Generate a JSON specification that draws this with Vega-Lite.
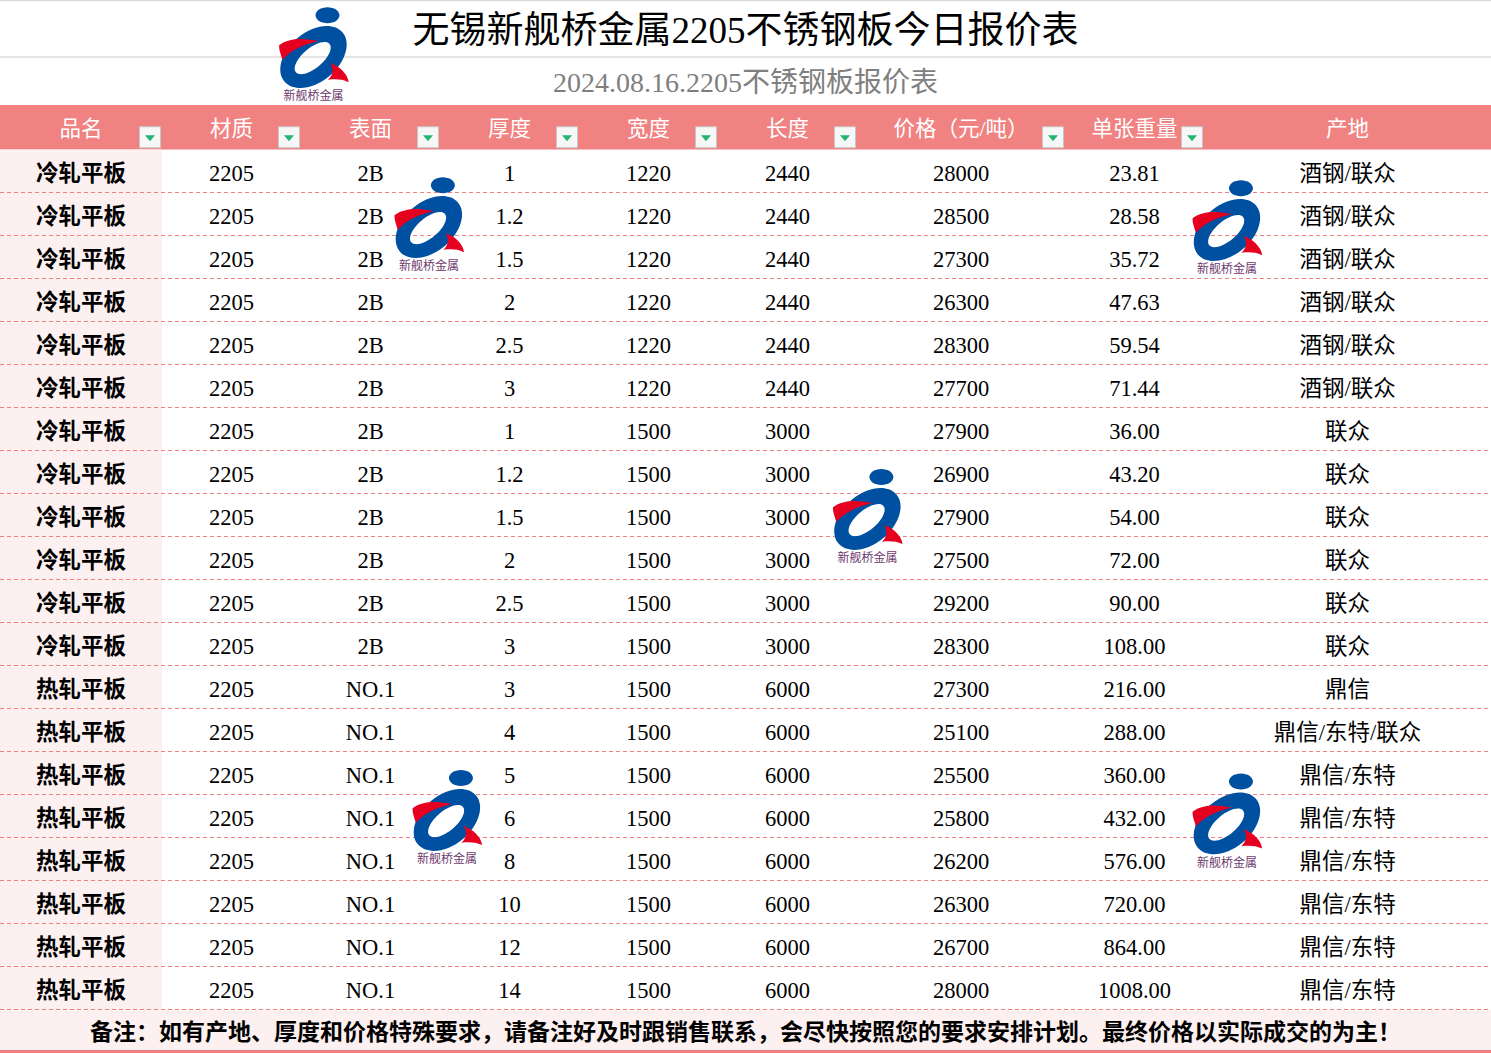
{
"$schema":"https://vega.github.io/schema/vega-lite/v6.json",
"width":1491,"height":1053,"padding":0,"autosize":{"type":"none"},
"background":"#FFFFFF",
"config":{"view":{"stroke":null},"text":{"font":"Liberation Serif, Noto Sans CJK SC"}},
"datasets":{
"table":[
{"r":1,"品名":"冷轧平板","材质":2205,"表面":"2B","厚度":1,"宽度":1220,"长度":2440,"价格（元/吨）":28000,"单张重量":"23.81","产地":"酒钢/联众"},
{"r":2,"品名":"冷轧平板","材质":2205,"表面":"2B","厚度":1.2,"宽度":1220,"长度":2440,"价格（元/吨）":28500,"单张重量":"28.58","产地":"酒钢/联众"},
{"r":3,"品名":"冷轧平板","材质":2205,"表面":"2B","厚度":1.5,"宽度":1220,"长度":2440,"价格（元/吨）":27300,"单张重量":"35.72","产地":"酒钢/联众"},
{"r":4,"品名":"冷轧平板","材质":2205,"表面":"2B","厚度":2,"宽度":1220,"长度":2440,"价格（元/吨）":26300,"单张重量":"47.63","产地":"酒钢/联众"},
{"r":5,"品名":"冷轧平板","材质":2205,"表面":"2B","厚度":2.5,"宽度":1220,"长度":2440,"价格（元/吨）":28300,"单张重量":"59.54","产地":"酒钢/联众"},
{"r":6,"品名":"冷轧平板","材质":2205,"表面":"2B","厚度":3,"宽度":1220,"长度":2440,"价格（元/吨）":27700,"单张重量":"71.44","产地":"酒钢/联众"},
{"r":7,"品名":"冷轧平板","材质":2205,"表面":"2B","厚度":1,"宽度":1500,"长度":3000,"价格（元/吨）":27900,"单张重量":"36.00","产地":"联众"},
{"r":8,"品名":"冷轧平板","材质":2205,"表面":"2B","厚度":1.2,"宽度":1500,"长度":3000,"价格（元/吨）":26900,"单张重量":"43.20","产地":"联众"},
{"r":9,"品名":"冷轧平板","材质":2205,"表面":"2B","厚度":1.5,"宽度":1500,"长度":3000,"价格（元/吨）":27900,"单张重量":"54.00","产地":"联众"},
{"r":10,"品名":"冷轧平板","材质":2205,"表面":"2B","厚度":2,"宽度":1500,"长度":3000,"价格（元/吨）":27500,"单张重量":"72.00","产地":"联众"},
{"r":11,"品名":"冷轧平板","材质":2205,"表面":"2B","厚度":2.5,"宽度":1500,"长度":3000,"价格（元/吨）":29200,"单张重量":"90.00","产地":"联众"},
{"r":12,"品名":"冷轧平板","材质":2205,"表面":"2B","厚度":3,"宽度":1500,"长度":3000,"价格（元/吨）":28300,"单张重量":"108.00","产地":"联众"},
{"r":13,"品名":"热轧平板","材质":2205,"表面":"NO.1","厚度":3,"宽度":1500,"长度":6000,"价格（元/吨）":27300,"单张重量":"216.00","产地":"鼎信"},
{"r":14,"品名":"热轧平板","材质":2205,"表面":"NO.1","厚度":4,"宽度":1500,"长度":6000,"价格（元/吨）":25100,"单张重量":"288.00","产地":"鼎信/东特/联众"},
{"r":15,"品名":"热轧平板","材质":2205,"表面":"NO.1","厚度":5,"宽度":1500,"长度":6000,"价格（元/吨）":25500,"单张重量":"360.00","产地":"鼎信/东特"},
{"r":16,"品名":"热轧平板","材质":2205,"表面":"NO.1","厚度":6,"宽度":1500,"长度":6000,"价格（元/吨）":25800,"单张重量":"432.00","产地":"鼎信/东特"},
{"r":17,"品名":"热轧平板","材质":2205,"表面":"NO.1","厚度":8,"宽度":1500,"长度":6000,"价格（元/吨）":26200,"单张重量":"576.00","产地":"鼎信/东特"},
{"r":18,"品名":"热轧平板","材质":2205,"表面":"NO.1","厚度":10,"宽度":1500,"长度":6000,"价格（元/吨）":26300,"单张重量":"720.00","产地":"鼎信/东特"},
{"r":19,"品名":"热轧平板","材质":2205,"表面":"NO.1","厚度":12,"宽度":1500,"长度":6000,"价格（元/吨）":26700,"单张重量":"864.00","产地":"鼎信/东特"},
{"r":20,"品名":"热轧平板","材质":2205,"表面":"NO.1","厚度":14,"宽度":1500,"长度":6000,"价格（元/吨）":28000,"单张重量":"1008.00","产地":"鼎信/东特"}
],
"cols":[
{"name":"品名","c":0},{"name":"材质","c":1},{"name":"表面","c":2},{"name":"厚度","c":3},{"name":"宽度","c":4},{"name":"长度","c":5},{"name":"价格（元/吨）","c":6},{"name":"单张重量","c":7},{"name":"产地","c":8}
],
"logos":[
{"lx":1.59,"ly":-1.69},{"lx":2.42,"ly":2.05},{"lx":7.58,"ly":2.12},{"lx":5.55,"ly":8.84},{"lx":2.55,"ly":15.84},{"lx":7.58,"ly":15.92}
],
"notes":[
{"title":"无锡新舰桥金属2205不锈钢板今日报价表","subtitle":"2024.08.16.2205不锈钢板报价表","note":"备注：如有产地、厚度和价格特殊要求，请备注好及时跟销售联系，会尽快按照您的要求安排计划。最终价格以实际成交的为主！"}
]
},
"resolve":{"scale":{"x":"independent"}},
"layer":[
{"layer":[
{"data":{"values":[{}]},"mark":{"type":"rect","fill":"#FFFFFF"},
 "encoding":{"x":{"datum":-0.5,"type":"quantitative","scale":{"domain":[-0.5,0.5,1.5,2.5,3.5,4.5,5.5,6.5,7.5,8.5],"range":[0,162,301,440,579,718,857,1065,1204,1491],"nice":false,"zero":false},"axis":null},"x2":{"datum":8.5},
 "y":{"datum":-2.5,"type":"quantitative","scale":{"domain":[-2.5,-1.5,-0.5,0.5,20.5,21.5],"range":[0,57,105,149.5,1009.5,1053],"nice":false,"zero":false},"axis":null},"y2":{"datum":-0.5}}},
{"data":{"values":[{}]},"mark":{"type":"rect","fill":"#F08282"},
 "encoding":{"x":{"datum":-0.5,"type":"quantitative","scale":{"domain":[-0.5,0.5,1.5,2.5,3.5,4.5,5.5,6.5,7.5,8.5],"range":[0,162,301,440,579,718,857,1065,1204,1491],"nice":false,"zero":false},"axis":null},"x2":{"datum":8.5},
 "y":{"datum":-0.5,"type":"quantitative","scale":{"domain":[-2.5,-1.5,-0.5,0.5,20.5,21.5],"range":[0,57,105,149.5,1009.5,1053],"nice":false,"zero":false},"axis":null},"y2":{"datum":0.5}}},
{"data":{"values":[{}]},"mark":{"type":"rect","fill":"#FDF0F0"},
 "encoding":{"x":{"datum":-0.5,"type":"quantitative","scale":{"domain":[-0.5,0.5,1.5,2.5,3.5,4.5,5.5,6.5,7.5,8.5],"range":[0,162,301,440,579,718,857,1065,1204,1491],"nice":false,"zero":false},"axis":null},"x2":{"datum":0.5},
 "y":{"datum":0.5,"type":"quantitative","scale":{"domain":[-2.5,-1.5,-0.5,0.5,20.5,21.5],"range":[0,57,105,149.5,1009.5,1053],"nice":false,"zero":false},"axis":null},"y2":{"datum":20.5}}},
{"data":{"values":[{}]},"mark":{"type":"rect","fill":"#FDF0F0"},
 "encoding":{"x":{"datum":-0.5,"type":"quantitative","scale":{"domain":[-0.5,0.5,1.5,2.5,3.5,4.5,5.5,6.5,7.5,8.5],"range":[0,162,301,440,579,718,857,1065,1204,1491],"nice":false,"zero":false},"axis":null},"x2":{"datum":8.5},
 "y":{"datum":20.5,"type":"quantitative","scale":{"domain":[-2.5,-1.5,-0.5,0.5,20.5,21.5],"range":[0,57,105,149.5,1009.5,1053],"nice":false,"zero":false},"axis":null},"y2":{"datum":21.5}}},
{"data":{"values":[{}]},"mark":{"type":"rule","stroke":"#DCDCDC","strokeWidth":1.5},
 "encoding":{"x":{"datum":-0.5,"type":"quantitative","scale":{"domain":[-0.5,0.5,1.5,2.5,3.5,4.5,5.5,6.5,7.5,8.5],"range":[0,162,301,440,579,718,857,1065,1204,1491],"nice":false,"zero":false},"axis":null},"x2":{"datum":8.5},
 "y":{"datum":-1.5,"type":"quantitative","scale":{"domain":[-2.5,-1.5,-0.5,0.5,20.5,21.5],"range":[0,57,105,149.5,1009.5,1053],"nice":false,"zero":false},"axis":null}}},
{"data":{"values":[{}]},"mark":{"type":"rule","stroke":"#DCDCDC","strokeWidth":2.5},
 "encoding":{"x":{"datum":-0.5,"type":"quantitative","scale":{"domain":[-0.5,0.5,1.5,2.5,3.5,4.5,5.5,6.5,7.5,8.5],"range":[0,162,301,440,579,718,857,1065,1204,1491],"nice":false,"zero":false},"axis":null},"x2":{"datum":8.5},
 "y":{"datum":-2.5,"type":"quantitative","scale":{"domain":[-2.5,-1.5,-0.5,0.5,20.5,21.5],"range":[0,57,105,149.5,1009.5,1053],"nice":false,"zero":false},"axis":null}}},
{"data":{"name":"table"},"mark":{"type":"rule","stroke":"#F08080","strokeWidth":1,"strokeDash":[4,3],"yOffset":21.5},
 "encoding":{"x":{"datum":-0.5,"type":"quantitative","scale":{"domain":[-0.5,0.5,1.5,2.5,3.5,4.5,5.5,6.5,7.5,8.5],"range":[0,162,301,440,579,718,857,1065,1204,1491],"nice":false,"zero":false},"axis":null},"x2":{"datum":8.5},
 "y":{"field":"r","type":"quantitative","scale":{"domain":[-2.5,-1.5,-0.5,0.5,20.5,21.5],"range":[0,57,105,149.5,1009.5,1053],"nice":false,"zero":false},"axis":null}}},
{"data":{"values":[{}]},"mark":{"type":"rule","stroke":"#F08080","strokeWidth":6},
 "encoding":{"x":{"datum":-0.5,"type":"quantitative","scale":{"domain":[-0.5,0.5,1.5,2.5,3.5,4.5,5.5,6.5,7.5,8.5],"range":[0,162,301,440,579,718,857,1065,1204,1491],"nice":false,"zero":false},"axis":null},"x2":{"datum":8.5},
 "y":{"datum":21.5,"type":"quantitative","scale":{"domain":[-2.5,-1.5,-0.5,0.5,20.5,21.5],"range":[0,57,105,149.5,1009.5,1053],"nice":false,"zero":false},"axis":null}}},
{"data":{"name":"notes"},"mark":{"type":"text","x":{"expr":"width/2"},"align":"center","baseline":"middle","fontSize":37,"dy":3.5,"fill":"#000000"},
 "encoding":{"y":{"datum":-2,"type":"quantitative","scale":{"domain":[-2.5,-1.5,-0.5,0.5,20.5,21.5],"range":[0,57,105,149.5,1009.5,1053],"nice":false,"zero":false},"axis":null},"text":{"field":"title","type":"nominal"}}},
{"data":{"name":"notes"},"mark":{"type":"text","x":{"expr":"width/2"},"align":"center","baseline":"middle","fontSize":28,"dy":3,"fill":"#7F7F7F"},
 "encoding":{"y":{"datum":-1,"type":"quantitative","scale":{"domain":[-2.5,-1.5,-0.5,0.5,20.5,21.5],"range":[0,57,105,149.5,1009.5,1053],"nice":false,"zero":false},"axis":null},"text":{"field":"subtitle","type":"nominal"}}},
{"data":{"name":"cols"},"mark":{"type":"text","align":"center","baseline":"middle","fontSize":21.5,"dy":3,"fill":"#FFFFFF"},
 "encoding":{"x":{"field":"c","type":"quantitative","scale":{"domain":[-0.5,0.5,1.5,2.5,3.5,4.5,5.5,6.5,7.5,8.5],"range":[0,162,301,440,579,718,857,1065,1204,1491],"nice":false,"zero":false},"axis":null},
 "y":{"datum":0,"type":"quantitative","scale":{"domain":[-2.5,-1.5,-0.5,0.5,20.5,21.5],"range":[0,57,105,149.5,1009.5,1053],"nice":false,"zero":false},"axis":null},"text":{"field":"name","type":"nominal"}}},
{"data":{"name":"table"},
 "transform":[{"fold":["品名","材质","表面","厚度","宽度","长度","价格（元/吨）","单张重量","产地"],"as":["key","value"]},{"lookup":"key","from":{"data":{"name":"cols"},"key":"name","fields":["c"]}},{"filter":"datum.c > 0"}],
 "mark":{"type":"text","align":"center","baseline":"middle","fontSize":22.5,"dy":3,"fill":"#000000"},
 "encoding":{"x":{"field":"c","type":"quantitative","scale":{"domain":[-0.5,0.5,1.5,2.5,3.5,4.5,5.5,6.5,7.5,8.5],"range":[0,162,301,440,579,718,857,1065,1204,1491],"nice":false,"zero":false},
   "axis":{"values":[0.5,1.5,2.5,3.5,4.5,5.5,6.5,7.5],"grid":true,"gridColor":"#D9D9D9","gridWidth":1,"labels":false,"ticks":false,"domain":false,"title":null,"zindex":0}},
 "y":{"field":"r","type":"quantitative","scale":{"domain":[-2.5,-1.5,-0.5,0.5,20.5,21.5],"range":[0,57,105,149.5,1009.5,1053],"nice":false,"zero":false},"axis":null},"text":{"field":"value","type":"nominal"}}},
{"data":{"name":"table"},
 "mark":{"type":"text","align":"center","baseline":"middle","fontSize":22.5,"fontWeight":"bold","dy":3,"fill":"#000000"},
 "encoding":{"x":{"datum":0,"type":"quantitative","scale":{"domain":[-0.5,0.5,1.5,2.5,3.5,4.5,5.5,6.5,7.5,8.5],"range":[0,162,301,440,579,718,857,1065,1204,1491],"nice":false,"zero":false},"axis":null},
 "y":{"field":"r","type":"quantitative","scale":{"domain":[-2.5,-1.5,-0.5,0.5,20.5,21.5],"range":[0,57,105,149.5,1009.5,1053],"nice":false,"zero":false},"axis":null},"text":{"field":"品名","type":"nominal"}}},
{"data":{"name":"notes"},"mark":{"type":"text","x":{"expr":"width/2"},"align":"center","baseline":"middle","fontSize":23,"fontWeight":"bold","dy":2,"fill":"#000000"},
 "encoding":{"y":{"datum":21,"type":"quantitative","scale":{"domain":[-2.5,-1.5,-0.5,0.5,20.5,21.5],"range":[0,57,105,149.5,1009.5,1053],"nice":false,"zero":false},"axis":null},"text":{"field":"note","type":"nominal"}}},
{"data":{"name":"logos"},
 "encoding":{"x":{"field":"lx","type":"quantitative","scale":{"domain":[-0.5,0.5,1.5,2.5,3.5,4.5,5.5,6.5,7.5,8.5],"range":[0,162,301,440,579,718,857,1065,1204,1491],"nice":false,"zero":false},"axis":null},
 "y":{"field":"ly","type":"quantitative","scale":{"domain":[-2.5,-1.5,-0.5,0.5,20.5,21.5],"range":[0,57,105,149.5,1009.5,1053],"nice":false,"zero":false},"axis":null}},
 "layer":[
 {"mark":{"type":"point","filled":true,"fill":"#0050A2","opacity":1,"strokeWidth":0,"size":6400,
   "shape":"M 0.728 -0.341 A 0.95 0.62 -40 1 1 -0.728 0.881 A 0.95 0.62 -40 1 1 0.728 -0.341 Z M 0.401 -0.054 A 0.55 0.25 -40 1 0 -0.441 0.654 A 0.55 0.25 -40 1 0 0.401 -0.054 Z M 0.05 -0.775 A 0.3 0.2 0 1 1 0.65 -0.775 A 0.3 0.2 0 1 1 0.05 -0.775 Z"}},
 {"mark":{"type":"point","filled":true,"fill":"#E60020","opacity":1,"strokeWidth":0,"size":6400,
   "shape":"M -0.86 -0.02 C -0.6 -0.22 -0.2 -0.2 0.12 -0.12 C -0.2 -0.05 -0.5 0.05 -0.78 0.34 C -0.82 0.2 -0.87 0.08 -0.86 -0.02 Z M 0.42 0.42 C 0.65 0.5 0.86 0.7 0.88 0.9 C 0.7 0.82 0.55 0.82 0.36 0.84 C 0.5 0.72 0.5 0.56 0.42 0.42 Z"}},
 {"mark":{"type":"text","align":"center","baseline":"middle","fontSize":12,"font":"Noto Sans CJK SC","dy":50,"fill":"#6E3A6E","text":"新舰桥金属"}}
 ]}
]},
{"data":{"name":"cols"},"transform":[{"filter":"datum.c < 8"}],
 "encoding":{"x":{"field":"c","type":"quantitative","scale":{"domain":[0,1,2,3,4,5,6,7],"range":[162,301,440,579,718,857,1065,1204],"nice":false,"zero":false},"axis":null},
 "y":{"datum":0,"type":"quantitative","scale":{"domain":[-2.5,-1.5,-0.5,0.5,20.5,21.5],"range":[0,57,105,149.5,1009.5,1053],"nice":false,"zero":false},"axis":null}},
 "layer":[
 {"mark":{"type":"point","shape":"square","size":441,"filled":true,"fill":"#F7F7F7","stroke":"#C6C6C6","strokeWidth":1,"opacity":1,"xOffset":-12,"yOffset":10}},
 {"mark":{"type":"point","shape":"M -1 -0.6 L 1 -0.6 L 0 0.6 Z","size":100,"filled":true,"fill":"#22B573","opacity":1,"strokeWidth":0,"xOffset":-12,"yOffset":11}}
 ]}
]
}
